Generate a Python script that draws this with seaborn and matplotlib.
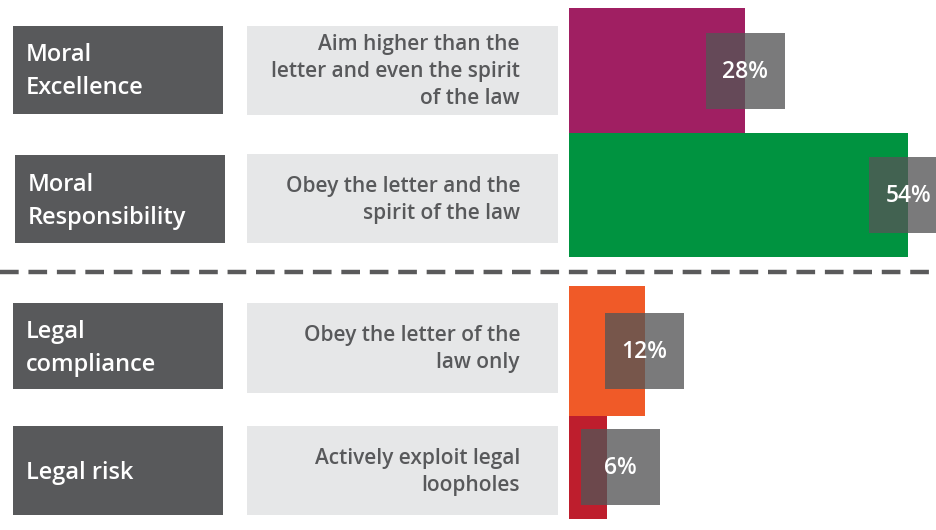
import matplotlib
matplotlib.use("Agg")
import matplotlib.pyplot as plt
from matplotlib.patches import Rectangle
from matplotlib.transforms import Affine2D
import seaborn as sns
import pandas as pd

# ---- data ----
categories = ["Moral\nExcellence", "Moral\nResponsibility", "Legal\ncompliance", "Legal risk"]
descriptions = ["Aim higher than the\nletter and even the spirit\nof the law",
                "Obey the letter and the\nspirit of the law",
                "Obey the letter of the\nlaw only",
                "Actively exploit legal\nloopholes"]
values = [28, 54, 12, 6]
labels = ["28%", "54%", "12%", "6%"]
colors = ["#A01F62", "#009340", "#F05A28", "#BE1E2D"]

# ---- layout (pixels, from top) ----
W, H = 936, 530
X0 = 569.3          # pixel where the bars start
PXPCT = 6.28        # pixels per percent
bar_tops = [8.3, 132.7, 286.0, 416.0]
bar_heights = [124.4, 124.0, 130.0, 102.7]
dark_boxes = [(13.3, 25.7, 209.7, 88.0), (14.7, 155.0, 210.3, 88.3),
              (13.3, 303.3, 209.7, 86.0), (13.3, 426.0, 209.7, 89.3)]
light_boxes = [(246.7, 26.0, 311.3, 89.0), (246.7, 154.3, 311.3, 89.0),
               (246.7, 303.3, 311.3, 89.4), (246.7, 426.0, 311.3, 89.3)]

sns.set_theme(style="white")
plt.rcParams["font.family"] = ["Open Sans", "DejaVu Sans"]

fig = plt.figure(figsize=(W / 100, H / 100), dpi=100)
ax = fig.add_axes([0, 0, 1, 1])

df = pd.DataFrame({"category": categories, "value": values})
sns.barplot(data=df, x="value", y="category", hue="category",
            palette=colors, orient="h", legend=False, ax=ax,
            saturation=1, linewidth=0)

# axes: x in percent, y in pixels from top
ax.set_xlim(-X0 / PXPCT, (W - X0) / PXPCT)
ax.set_ylim(H, 0)
for p in ax.patches:
    i = values.index(round(p.get_width()))
    p.set_y(bar_tops[i])
    p.set_height(bar_heights[i])
    p.set_zorder(2)
ax.set_axis_off()

pix = Affine2D().scale(1 / W, -1 / H).translate(0, 1) + fig.transFigure

for (x, y, w, h), cat in zip(dark_boxes, categories):
    fig.add_artist(Rectangle((x, y), w, h, transform=pix, facecolor="#58595B",
                             edgecolor="none", zorder=1))
    fig.text(x + 12.7, y + h / 2 + 2, cat, transform=pix, ha="left", va="center",
             color="white", fontsize=17, fontweight="semibold", linespacing=1.5)

for (x, y, w, h), desc in zip(light_boxes, descriptions):
    fig.add_artist(Rectangle((x, y), w, h, transform=pix, facecolor="#E6E7E8",
                             edgecolor="none", zorder=1))
    fig.text(520, y + h / 2 + 1, desc, transform=pix, ha="right", va="center",
             color="#58595B", fontsize=15, fontweight="semibold",
             multialignment="right", linespacing=1.36)

# dashed separator
fig.add_artist(plt.Line2D([0, W], [272, 272], transform=pix, color="#5A5A5B",
                          lw=3.2, dashes=(4.2, 2.2), zorder=3))

# value boxes centred on bar ends (kept clear of the bar start)
bw, bh = 79 / PXPCT, 76
min_left = 12 / PXPCT
for top, h, v, lab in zip(bar_tops, bar_heights, values, labels):
    cy = top + h / 2
    cx = max(v, min_left + bw / 2)
    ax.add_patch(Rectangle((cx - bw / 2, cy - bh / 2), bw, bh, facecolor="#555556",
                           alpha=0.78, edgecolor="none", zorder=4, clip_on=False))
    ax.text(cx, cy + 1, lab, ha="center", va="center", color="white",
            fontsize=16.5, fontweight="semibold", zorder=5)

fig.savefig("out.png", dpi=100)
